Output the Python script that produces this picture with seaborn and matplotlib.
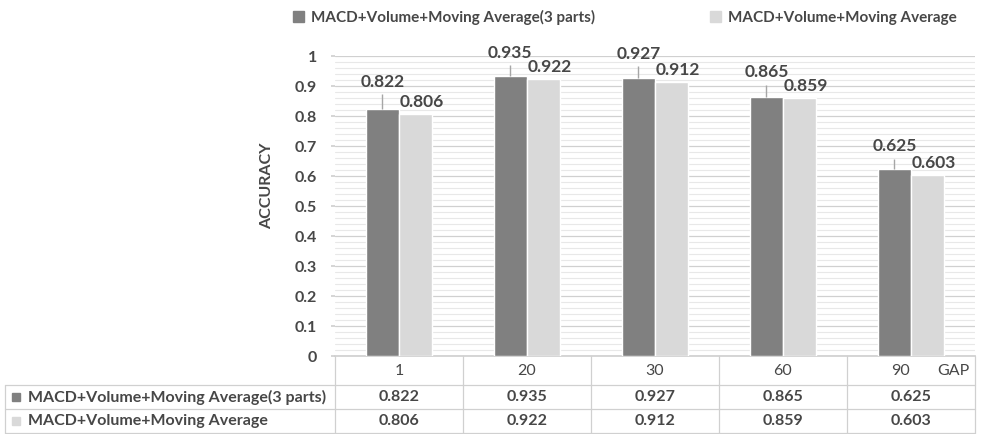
import numpy as np
import pandas as pd
import matplotlib
matplotlib.use('Agg')
import matplotlib.pyplot as plt
import seaborn as sns
from matplotlib.patches import Patch, Rectangle

gaps = ['1', '20', '30', '60', '90']
series_names = ['MACD+Volume+Moving Average(3 parts)', 'MACD+Volume+Moving Average']
acc_3parts = [0.822, 0.935, 0.927, 0.865, 0.625]
acc_base = [0.806, 0.922, 0.912, 0.859, 0.603]
err_3parts = [0.05, 0.035, 0.04, 0.04, 0.033]
ytick_labels = ['0', '0.1', '0.2', '0.3', '0.4', '0.5', '0.6', '0.7', '0.8', '0.9', '1']
colors = ['#808080', '#d9d9d9']
txt = '#474747'

sns.set_theme(style='white')
plt.rcParams['font.family'] = ['Lato', 'DejaVu Sans']

W, H = 987, 434
fig = plt.figure(figsize=(W / 100, H / 100), dpi=100)


def px(l, t, r, b):
    return [l / W, 1 - b / H, (r - l) / W, (b - t) / H]


ax = fig.add_axes(px(335, 56, 975, 356))
df = pd.DataFrame({
    'gap': gaps * 2,
    'acc': acc_3parts + acc_base,
    'series': [series_names[0]] * len(gaps) + [series_names[1]] * len(gaps),
})
sns.barplot(data=df, x='gap', y='acc', hue='series', order=gaps, hue_order=series_names,
            palette=colors, saturation=1, width=0.52, gap=0, errorbar=None,
            legend=False, ax=ax, zorder=3)

ax.set_xlim(-0.5, len(gaps) - 0.5)
ax.set_ylim(0, 1)
ax.set_yticks(np.arange(0, 1.01, 0.1))
ax.set_yticklabels(ytick_labels, fontsize=11.5, fontweight='bold', color=txt)
ax.set_yticks(np.arange(0, 1.001, 0.02), minor=True)
ax.grid(axis='y', which='major', color='#d0d0d0', lw=0.9, zorder=0)
ax.grid(axis='y', which='minor', color='#e8e8e8', lw=0.8, zorder=0)
ax.set_axisbelow(True)
ax.tick_params(axis='y', which='major', length=3, color='#d0d0d0', pad=10, left=True)
ax.tick_params(axis='y', which='minor', length=0)
ax.tick_params(axis='x', length=0, labelbottom=False)
ax.set_xlabel('')
ax.set_ylabel('ACCURACY', fontsize=11.5, fontweight='bold', color=txt)
ax.yaxis.set_label_coords(-0.095, 0.567)
for s in ['top', 'right', 'left']:
    ax.spines[s].set_visible(False)
ax.spines['bottom'].set_color('#d0d0d0')

# error bars and labels
dark_bars = ax.containers[0]
light_bars = ax.containers[1]
for bar, v, e in zip(dark_bars, acc_3parts, err_3parts):
    x = bar.get_x() + bar.get_width() / 2
    ax.vlines(x, v, v + e, color='#a6a6a6', lw=1, zorder=4)
    ax.annotate(f'{v:.3f}', (x, v + e), xytext=(0, 3), textcoords='offset points',
                ha='center', va='bottom', fontsize=12.5, fontweight='bold', color=txt)
for bar, v in zip(light_bars, acc_base):
    x = bar.get_x() + bar.get_width() / 2
    ax.annotate(f'{v:.3f}', (x, v), xytext=(4.5, 3), textcoords='offset points',
                ha='center', va='bottom', fontsize=12.5, fontweight='bold', color=txt)

# data table (pixel coordinates overlay)
tax = fig.add_axes([0, 0, 1, 1], facecolor='none')
tax.set_xlim(0, W)
tax.set_ylim(H, 0)
tax.axis('off')
bounds = [ax.transData.transform((x, 0))[0] for x in np.arange(-0.5, len(gaps), 1.0)]
centers = [ax.transData.transform((i, 0))[0] for i in range(len(gaps))]
lc = '#d0d0d0'
left_x = 5
top_y, r1_y, r2_y, bot_y = 356, 385, 409, 433
for b in bounds:
    tax.plot([b, b], [top_y, bot_y], color=lc, lw=0.9)
tax.plot([left_x, left_x], [r1_y, bot_y], color=lc, lw=0.9)
for y in [r1_y, r2_y, bot_y]:
    tax.plot([left_x, bounds[-1]], [y, y], color=lc, lw=0.9)
for i, (c, g) in enumerate(zip(centers, gaps)):
    xx = c - 10 if i == len(gaps) - 1 else c
    tax.text(xx, 371, g, ha='center', va='center', fontsize=11.5, color=txt)
tax.text(bounds[-1] - 6, 371, 'GAP', ha='right', va='center', fontsize=11.5, color=txt)
rows = [acc_3parts, acc_base]
row_y = [(r1_y + r2_y) / 2, (r2_y + bot_y) / 2]
for name, vals, yy, col in zip(series_names, rows, row_y, colors):
    tax.add_patch(Rectangle((12, yy - 4), 8, 8, color=col))
    tax.text(28, yy, name, ha='left', va='center', fontsize=11.5, fontweight='bold', color=txt)
    for c, v in zip(centers, vals):
        tax.text(c, yy, f'{v:.3f}', ha='center', va='center', fontsize=11.5, fontweight='bold', color=txt)

handles = [Patch(color=c) for c in colors]
fig.legend(handles, series_names, loc='center', bbox_to_anchor=(625 / W, 1 - 17 / H), ncol=2,
           frameon=False, handlelength=0.7, handleheight=0.7, handletextpad=0.5,
           columnspacing=7.5, prop={'size': 11, 'weight': 'bold'}, labelcolor=txt)

fig.savefig('out.png', dpi=100)
